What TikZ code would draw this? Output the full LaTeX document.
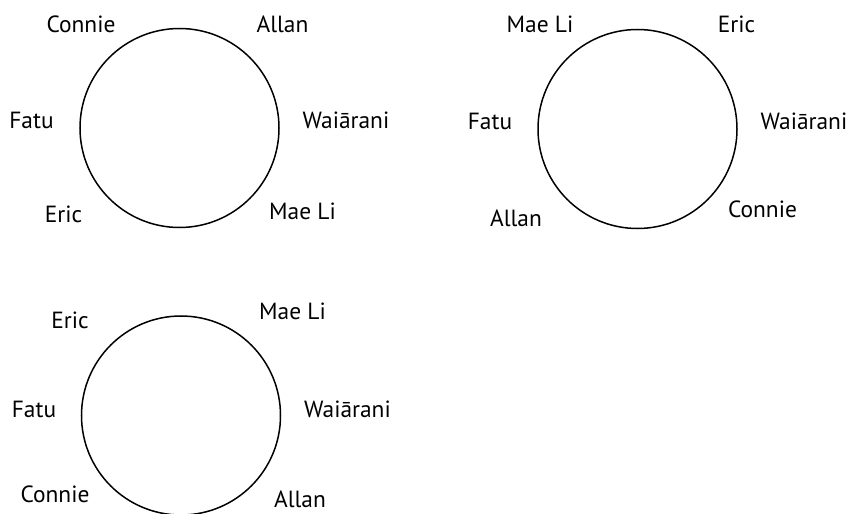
\documentclass[tikz,border=0pt]{standalone}
\usepackage{fontspec}
\setmainfont{PT Sans}
\begin{document}
\begin{tikzpicture}[x=1bp,y=-1bp,
  lbl/.style={font=\fontsize{23.5}{27}\selectfont, inner sep=0pt, anchor=base},
  ring/.style={draw, line width=1.5bp}]
\useasboundingbox (0,0) rectangle (851,514);
% circle 1
\node[ring, circle, minimum size=199bp, inner sep=0pt] (c1) at (179.5,128) {};
\node[lbl] (c1connie) at (81,33) {Connie};
\node[lbl] (c1allan) at (282.5,33) {Allan};
\node[lbl] (c1fatu) at (31.5,129) {Fatu};
\node[lbl] (c1wai) at (346,129) {Waiārani};
\node[lbl] (c1eric) at (63.5,223) {Eric};
\node[lbl] (c1mae) at (302.5,219.5) {Mae Li};
% circle 2
\node[ring, circle, minimum size=199bp, inner sep=0pt] (c2) at (637.5,129) {};
\node[lbl] (c2mae) at (540,33) {Mae Li};
\node[lbl] (c2eric) at (736.5,33) {Eric};
\node[lbl] (c2fatu) at (490,130) {Fatu};
\node[lbl] (c2wai) at (804,130) {Waiārani};
\node[lbl] (c2allan) at (516,227) {Allan};
\node[lbl] (c2connie) at (762.5,218) {Connie};
% circle 3
\node[ring, circle, minimum size=199bp, inner sep=0pt] (c3) at (181,415.5) {};
\node[lbl] (c3eric) at (70,329) {Eric};
\node[lbl] (c3mae) at (292.5,320) {Mae Li};
\node[lbl] (c3fatu) at (34,417) {Fatu};
\node[lbl] (c3wai) at (347.5,417) {Waiārani};
\node[lbl] (c3connie) at (55,502) {Connie};
\node[lbl] (c3allan) at (300,507) {Allan};
\end{tikzpicture}
\end{document}
